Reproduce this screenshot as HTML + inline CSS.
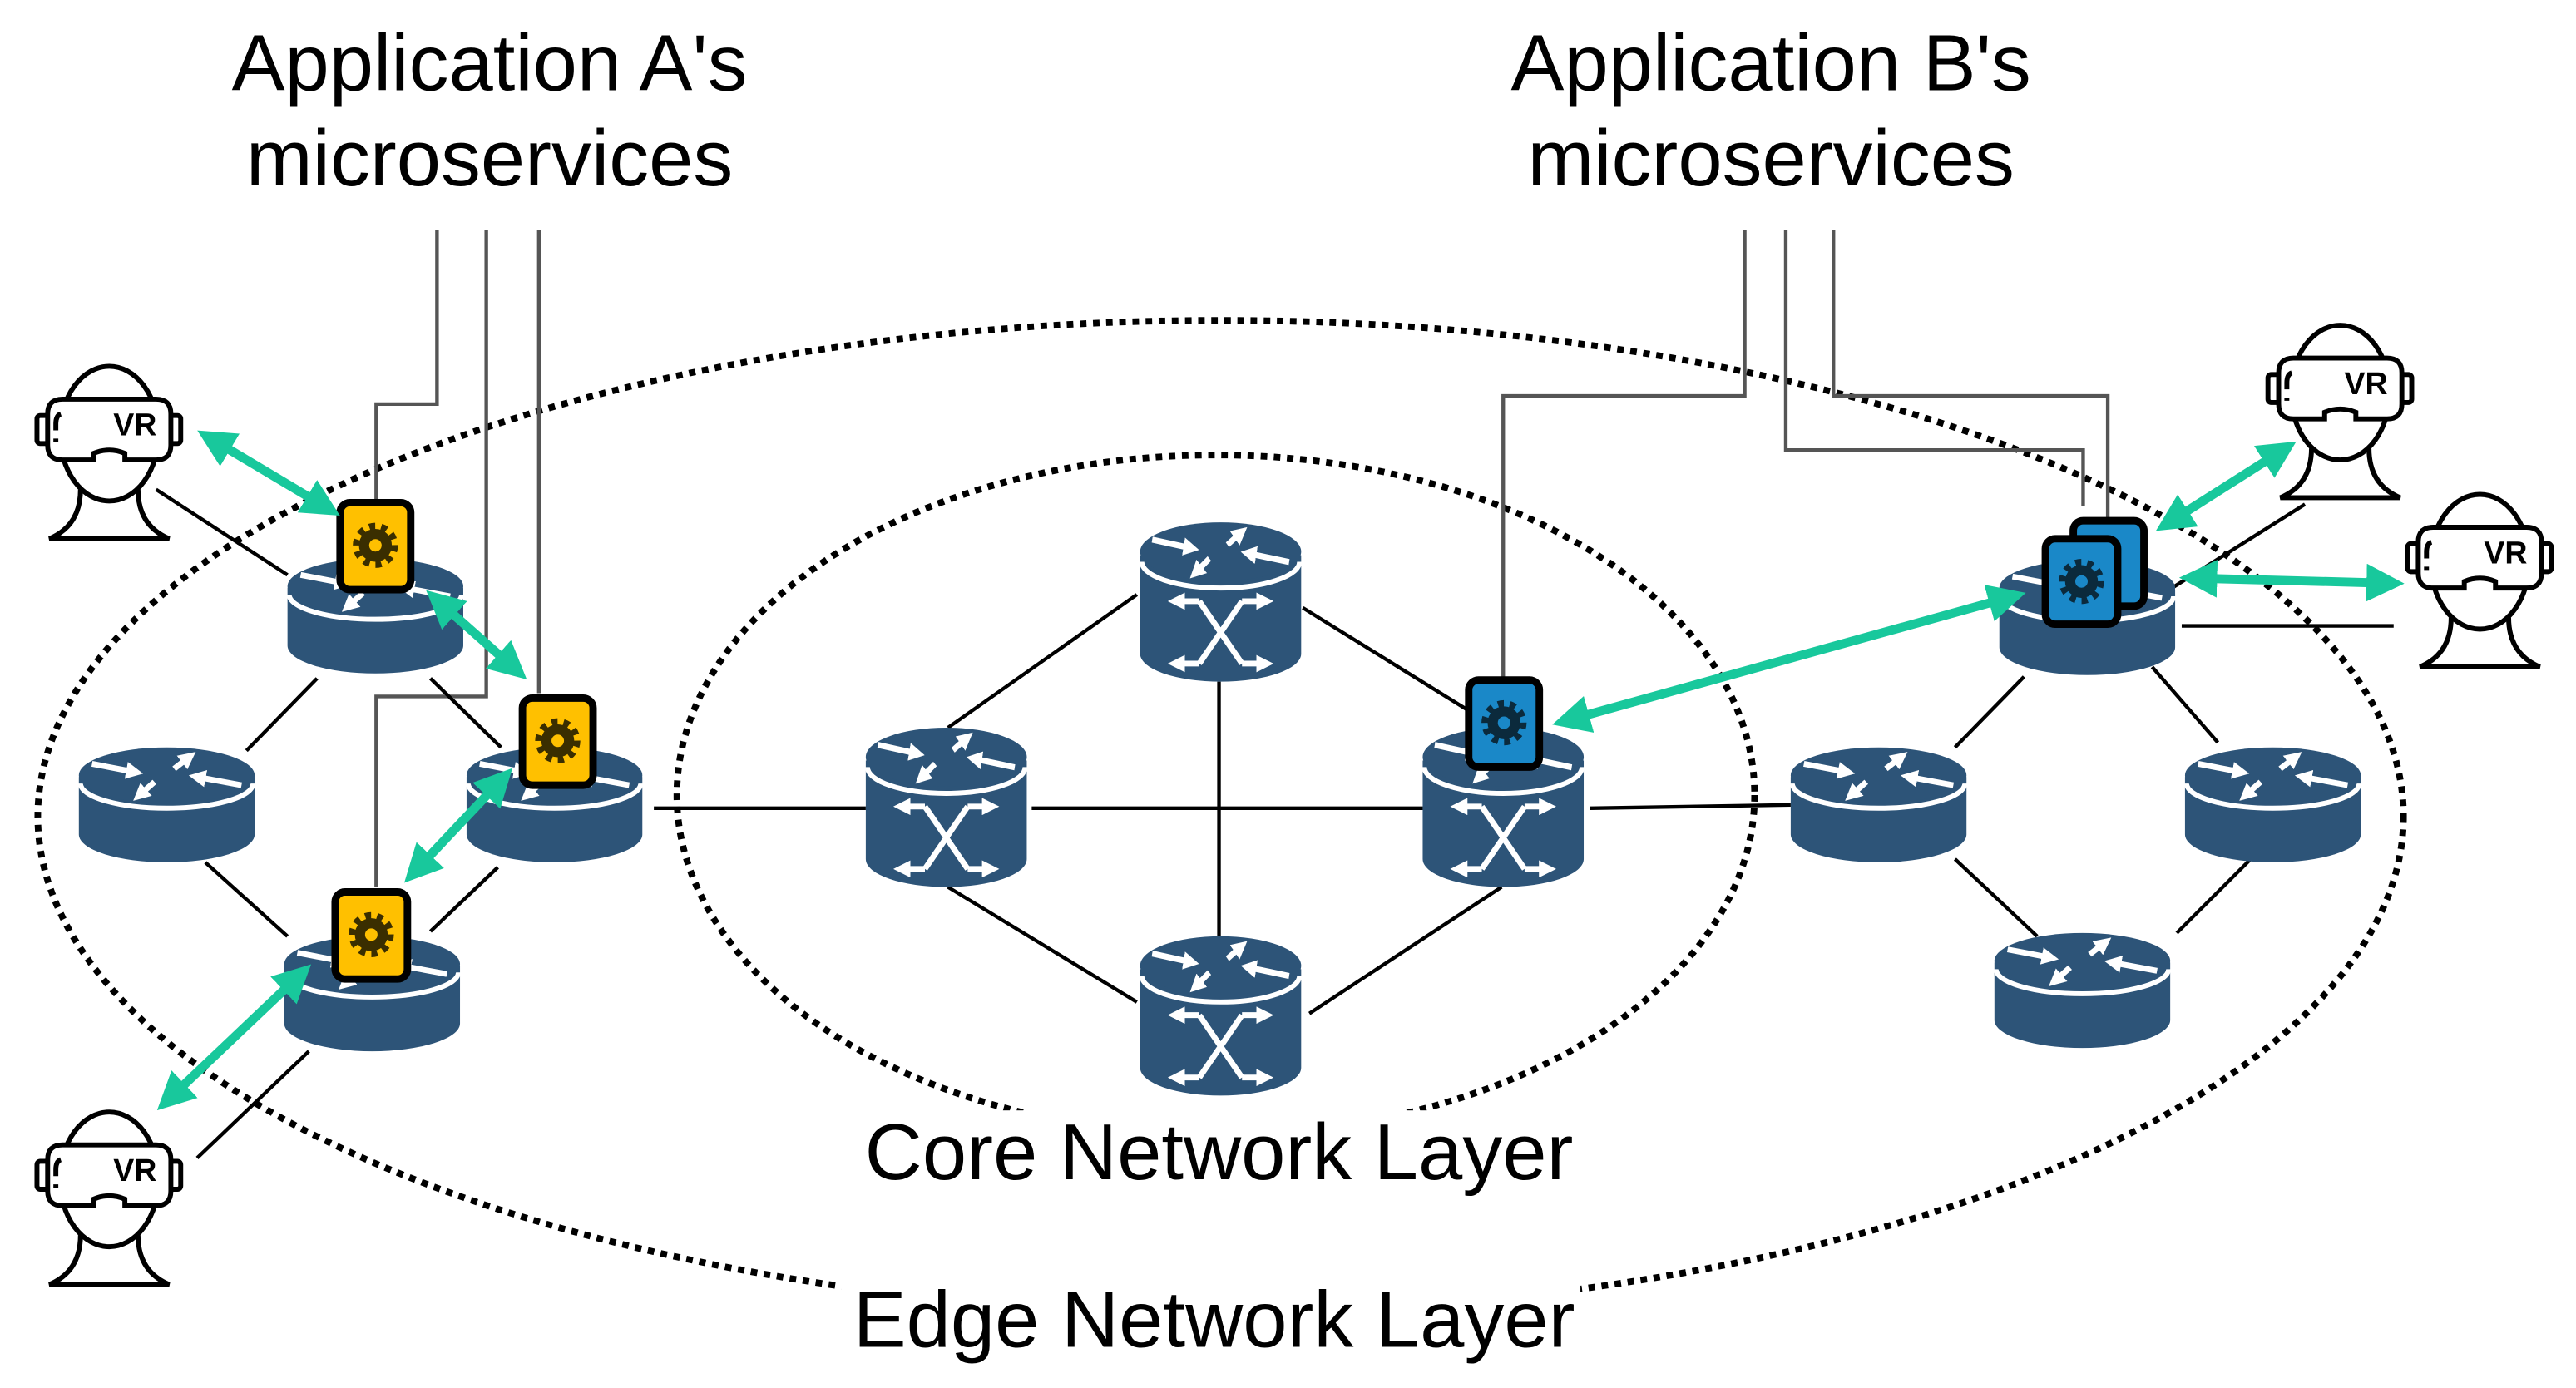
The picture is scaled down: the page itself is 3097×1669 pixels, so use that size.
<!DOCTYPE html>
<html><head><meta charset="utf-8"><style>
html,body{margin:0;padding:0;background:#fff;}
svg{display:block;}
text{font-family:"Liberation Sans",Arial,sans-serif;}
</style></head><body>
<svg width="3097" height="1669" viewBox="0 0 1568 845" preserveAspectRatio="none" xmlns="http://www.w3.org/2000/svg">
<defs>
<marker id="ah" viewBox="0 0 10 10" refX="5" refY="5" markerWidth="4.2" markerHeight="4.2" orient="auto-start-reverse" markerUnits="strokeWidth"><path d="M0,0 L10,5 L0,10 Z" fill="#18C89C"/></marker>
<marker id="wh" viewBox="0 0 10 10" refX="5" refY="5" markerWidth="3" markerHeight="3" orient="auto-start-reverse" markerUnits="strokeWidth"><path d="M0,0 L10,5 L0,10 Z" fill="#fff"/></marker>
<g id="toparrows">
<line x1="8" y1="10" x2="34" y2="15" stroke="#fff" stroke-width="3.5" marker-end="url(#wh)"/>
<line x1="99" y1="23" x2="72" y2="18" stroke="#fff" stroke-width="3.5" marker-end="url(#wh)"/>
<line x1="46" y1="21" x2="37" y2="29" stroke="#fff" stroke-width="3.5" marker-end="url(#wh)"/>
<line x1="58" y1="13" x2="67" y2="6" stroke="#fff" stroke-width="3.5" marker-end="url(#wh)"/>
</g>
<g id="er">
<path d="M0,18 L0,53 A53.5,17 0 0 0 107,53 L107,18 Z" fill="#2D5478"/>
<path d="M1,22 A52.5,15 0 0 0 106,22" fill="none" stroke="#fff" stroke-width="3"/>
<ellipse cx="53.5" cy="17" rx="53.5" ry="17" fill="#2D5478"/>
<use href="#toparrows"/>
</g>
<g id="cr">
<path d="M0,20 L0,80 A49,17 0 0 0 98,80 L98,20 Z" fill="#2D5478"/>
<path d="M1,24 A48,16 0 0 0 97,24" fill="none" stroke="#fff" stroke-width="3"/>
<g transform="scale(0.916,1.05)"><ellipse cx="53.5" cy="17" rx="53.5" ry="17" fill="#2D5478"/><use href="#toparrows"/></g>
<path d="M36,48 L62,86 M62,48 L36,86" stroke="#fff" stroke-width="3.5" fill="none"/>
<line x1="36" y1="48" x2="22" y2="48" stroke="#fff" stroke-width="3.5" marker-end="url(#wh)"/>
<line x1="62" y1="48" x2="76" y2="48" stroke="#fff" stroke-width="3.5" marker-end="url(#wh)"/>
<line x1="36" y1="86" x2="22" y2="86" stroke="#fff" stroke-width="3.5" marker-end="url(#wh)"/>
<line x1="62" y1="86" x2="76" y2="86" stroke="#fff" stroke-width="3.5" marker-end="url(#wh)"/>
</g>
<g id="vr" fill="none" stroke="#000" stroke-width="3">
<ellipse cx="44.5" cy="42" rx="30" ry="41" fill="#fff"/>
<rect x="0.5" y="31" width="8" height="17" rx="2" fill="#fff"/>
<rect x="80" y="31" width="8" height="17" rx="2" fill="#fff"/>
<path d="M16,21 L73,21 Q82,21 82,30 L82,49 Q82,58 73,58 L54,58 L54,54 Q44.5,50 35,54 L35,58 L16,58 Q7,58 7,49 L7,30 Q7,21 16,21 Z" fill="#fff"/>
<path d="M15,30 Q12,31 12,36 L12,40 M12,45 L12,47"/>
<path d="M27,76 Q27,98 8,106 L81,106 Q62,98 62,76"/>
</g>
<g id="gear"><circle r="9.5"/><circle r="11.5" fill="none" stroke-width="4.5" stroke-dasharray="3.6 3.6"/></g>
</defs>

<!-- ellipses -->
<ellipse cx="743" cy="497" rx="720" ry="302" fill="none" stroke="#000" stroke-width="4" stroke-dasharray="4 4"/>
<ellipse cx="740" cy="484" rx="328" ry="207" fill="none" stroke="#000" stroke-width="4" stroke-dasharray="4 4"/>

<!-- grey microservice lines -->
<g fill="none" stroke="#555" stroke-width="2.2">
<path d="M266,140 L266,246 L229,246 L229,305"/>
<path d="M296,140 L296,424 L229,424 L229,540"/>
<path d="M328,140 L328,422"/>
<path d="M1062,140 L1062,241 L915,241 L915,412"/>
<path d="M1087,140 L1087,274 L1268,274 L1268,308"/>
<path d="M1116,140 L1116,241 L1283,241 L1283,318"/>
</g>

<!-- black links -->
<g stroke="#000" stroke-width="2.2">
<line x1="95" y1="298" x2="175" y2="350"/>
<line x1="193" y1="413" x2="150" y2="457"/>
<line x1="262" y1="413" x2="305" y2="455"/>
<line x1="125" y1="525" x2="175" y2="570"/>
<line x1="303" y1="528" x2="262" y2="567"/>
<line x1="398" y1="492" x2="527" y2="492"/>
<line x1="577" y1="443" x2="692" y2="362"/>
<line x1="793" y1="370" x2="893" y2="432"/>
<line x1="628" y1="492" x2="866" y2="492"/>
<line x1="742" y1="415" x2="742" y2="570"/>
<line x1="577" y1="540" x2="692" y2="610"/>
<line x1="914" y1="540" x2="797" y2="617"/>
<line x1="968" y1="492" x2="1090" y2="490"/>
<line x1="1232" y1="412" x2="1190" y2="455"/>
<line x1="1310" y1="406" x2="1350" y2="452"/>
<line x1="1190" y1="523" x2="1240" y2="570"/>
<line x1="1370" y1="523" x2="1325" y2="568"/>
<line x1="188" y1="640" x2="120" y2="705"/>
<line x1="1322" y1="358" x2="1403" y2="307"/>
<line x1="1328" y1="381" x2="1457" y2="381"/>
</g>

<!-- routers -->
<use href="#er" x="175" y="340"/>
<use href="#er" x="48" y="455"/>
<use href="#er" x="284" y="455"/>
<use href="#er" x="173" y="570"/>
<use href="#er" x="1217" y="341"/>
<use href="#er" x="1090" y="455"/>
<use href="#er" x="1330" y="455"/>
<use href="#er" x="1214" y="568"/>
<use href="#cr" x="694" y="318"/>
<use href="#cr" x="527" y="443"/>
<use href="#cr" x="866" y="443"/>
<use href="#cr" x="694" y="570"/>

<!-- chips -->
<g stroke="#000" stroke-width="4.5">
<rect x="207" y="306" width="43" height="53" rx="6" fill="#FFC000"/>
<rect x="318" y="425" width="43" height="53" rx="6" fill="#FFC000"/>
<rect x="204" y="543" width="44" height="53" rx="6" fill="#FFC000"/>
<rect x="894" y="414" width="43" height="53" rx="6" fill="#1A88C8"/>
<rect x="1262" y="317" width="43" height="52" rx="6" fill="#1A88C8"/>
<rect x="1245" y="328" width="44" height="52" rx="6" fill="#1A88C8"/>
</g>
<!-- gears -->
<g fill="#3A2E00" stroke="#3A2E00">
<use href="#gear" x="228.5" y="332"/>
<use href="#gear" x="339.5" y="451"/>
<use href="#gear" x="226" y="569"/>
</g>
<g fill="#0B2A3C" stroke="#0B2A3C">
<use href="#gear" x="915.5" y="440"/>
<use href="#gear" x="1267" y="354"/>
</g>
<g fill="#FFC000"><circle cx="228.5" cy="332" r="3.8"/><circle cx="339.5" cy="451" r="3.8"/><circle cx="226" cy="569" r="3.8"/></g>
<g fill="#1A88C8"><circle cx="915.5" cy="440" r="3.8"/><circle cx="1267" cy="354" r="3.8"/></g>

<!-- VR users -->
<use href="#vr" x="22" y="222"/>
<use href="#vr" x="1380" y="197"/>
<use href="#vr" x="1465" y="300"/>
<use href="#vr" x="22" y="676"/>
<g font-weight="bold" font-size="19" fill="#000">
<text x="69" y="265">VR</text>
<text x="1427" y="240">VR</text>
<text x="1512" y="343">VR</text>
<text x="69" y="719">VR</text>
</g>

<!-- green arrows -->
<g stroke="#18C89C" stroke-width="5.5" marker-start="url(#ah)" marker-end="url(#ah)">
<line x1="130" y1="268" x2="197" y2="308"/>
<line x1="268" y1="367" x2="312" y2="406"/>
<line x1="254" y1="529" x2="304" y2="476"/>
<line x1="104" y1="668" x2="181" y2="595"/>
<line x1="956" y1="438" x2="1222" y2="364"/>
<line x1="1322" y1="317" x2="1388" y2="275"/>
<line x1="1338" y1="352" x2="1452" y2="355"/>
</g>

<!-- labels -->
<rect x="520" y="676" width="440" height="52" fill="#fff"/>
<rect x="512" y="779" width="450" height="50" fill="#fff"/>
<g font-size="48.5" fill="#000" text-anchor="middle">
<text x="298" y="55">Application A's</text>
<text x="298" y="113">microservices</text>
<text x="1078" y="55">Application B's</text>
<text x="1078" y="113">microservices</text>
<text x="742" y="718">Core Network Layer</text>
<text x="739" y="820">Edge Network Layer</text>
</g>
</svg>
</body></html>
